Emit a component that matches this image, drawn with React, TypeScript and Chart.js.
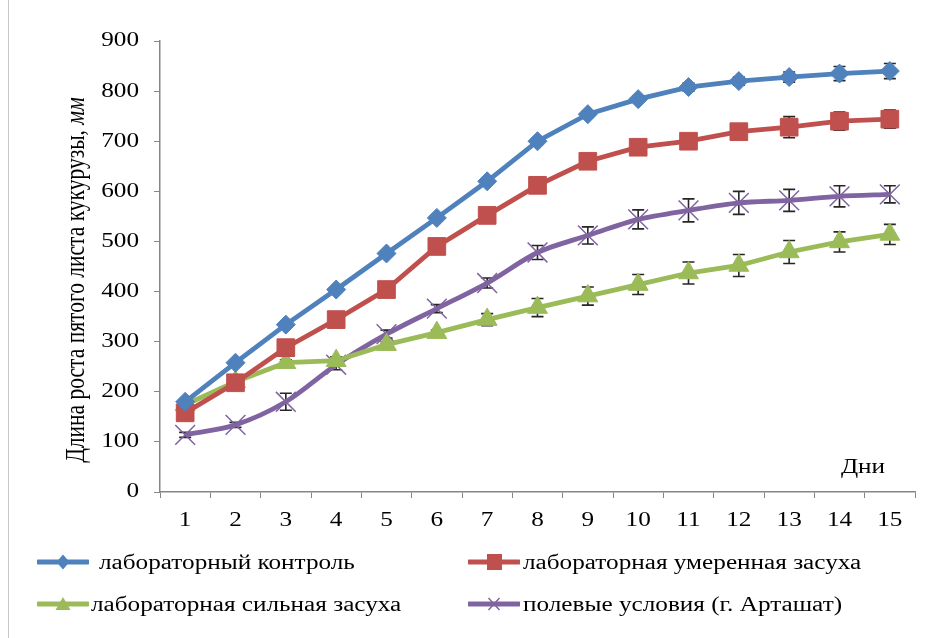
import React, { useEffect, useRef } from "react";
import { Chart, registerables } from "chart.js";

Chart.register(...registerables);

const days = ["1", "2", "3", "4", "5", "6", "7", "8", "9", "10", "11", "12", "13", "14", "15"];
const seriesNames = [
  "лабораторный контроль",
  "лабораторная умеренная засуха",
  "лабораторная сильная засуха",
  "полевые условия (г. Арташат)",
];
const control = [180, 258, 334, 404, 476, 547, 620, 700, 754, 784, 808, 820, 828, 835, 840];
const moderate = [158, 218, 288, 344, 404, 490, 552, 612, 660, 688, 700, 719, 728, 740, 744];
const severe = [174, 220, 258, 262, 294, 318, 344, 368, 391, 414, 437, 452, 479, 499, 514];
const field = [114, 134, 180, 254, 315, 366, 417, 478, 512, 544, 562, 577, 582, 590, 594];
const controlErr = [4, 5, 5, 5, 5, 5, 5, 6, 6, 6, 8, 8, 10, 14, 15];
const moderateErr = [5, 6, 6, 6, 6, 6, 6, 8, 8, 8, 8, 10, 21, 18, 18];
const severeErr = [4, 6, 6, 8, 6, 5, 12, 18, 18, 20, 22, 22, 23, 20, 20];
const fieldErr = [5, 5, 17, 10, 8, 8, 10, 14, 17, 19, 23, 23, 22, 21, 17];
const yTitleMain = "Длина роста пятого листа кукурузы, ";
const yTitleUnit = "мм";
const xTitle = "Дни";

const colors = ["#4F81BD", "#C0504D", "#9BBB59", "#8064A2"];
const FONT = "'Liberation Serif', 'Times New Roman', serif";
const SX = 1.23; // horizontal stretch of the text in the reference

const errors = [controlErr, moderateErr, severeErr, fieldErr];

const errorBarPlugin = {
  id: "errorBars",
  beforeDatasetsDraw(chart: any) {
    const { ctx, scales } = chart;
    const xs = scales.x;
    const ys = scales.y;
    ctx.save();
    ctx.strokeStyle = "#262626";
    ctx.lineWidth = 1.6;
    chart.data.datasets.forEach((ds: any, di: number) => {
      const errs = errors[di];
      ds.data.forEach((v: number, i: number) => {
        const e = errs[i];
        const x = xs.getPixelForValue(i);
        const yt = ys.getPixelForValue(v + e);
        const yb = ys.getPixelForValue(v - e);
        ctx.beginPath();
        ctx.moveTo(x, yt);
        ctx.lineTo(x, yb);
        ctx.moveTo(x - 6, yt);
        ctx.lineTo(x + 6, yt);
        ctx.moveTo(x - 6, yb);
        ctx.lineTo(x + 6, yb);
        ctx.stroke();
      });
    });
    ctx.restore();
  },
};

const textPlugin = {
  id: "texts",
  afterDraw(chart: any) {
    const { ctx, chartArea, scales } = chart;
    const tickFont = `20.5px ${FONT}`;
    // y tick labels
    scales.y.ticks.forEach((t: any, i: number) => {
      const y = scales.y.getPixelForTick(i);
      ctx.save();
      ctx.translate(139, y);
      ctx.scale(SX, 1);
      ctx.font = tickFont;
      ctx.fillStyle = "#000";
      ctx.textAlign = "right";
      ctx.textBaseline = "middle";
      ctx.fillText(String(t.value), 0, 0);
      ctx.restore();
    });
    // x tick labels
    const labels = scales.x.getLabels();
    scales.x.ticks.forEach((t: any, i: number) => {
      const x = scales.x.getPixelForTick(i);
      ctx.save();
      ctx.translate(x, chartArea.bottom + 29);
      ctx.scale(SX, 1);
      ctx.font = tickFont;
      ctx.fillStyle = "#000";
      ctx.textAlign = "center";
      ctx.textBaseline = "middle";
      ctx.fillText(String(labels[t.value]), 0, 0);
      ctx.restore();
    });
    // y title
    ctx.save();
    ctx.translate(77, 280);
    ctx.rotate(-Math.PI / 2);
    ctx.scale(1, SX);
    const f1 = `21.5px ${FONT}`;
    const f2 = `italic 21.5px ${FONT}`;
    ctx.font = f1;
    const w1 = ctx.measureText(yTitleMain).width;
    ctx.font = f2;
    const w2 = ctx.measureText(yTitleUnit).width;
    const start = -(w1 + w2) / 2;
    ctx.fillStyle = "#000";
    ctx.textBaseline = "middle";
    ctx.textAlign = "left";
    ctx.font = f1;
    ctx.fillText(yTitleMain, start, 0);
    ctx.font = f2;
    ctx.fillText(yTitleUnit, start + w1, 0);
    ctx.restore();
    // x title
    ctx.save();
    ctx.translate(863, 468);
    ctx.scale(SX, 1);
    ctx.font = `20.5px ${FONT}`;
    ctx.fillStyle = "#000";
    ctx.textAlign = "center";
    ctx.textBaseline = "middle";
    ctx.fillText(xTitle, 0, 0);
    ctx.restore();
  },
};

function LegendMarker({ idx }: { idx: number }) {
  const c = colors[idx];
  let marker: any = null;
  if (idx === 0) marker = <polygon points="26,2.5 32.5,10 26,17.5 19.5,10" fill={c} />;
  if (idx === 1) marker = <rect x="19" y="2" width="15" height="16" fill={c} />;
  if (idx === 2) marker = <polygon points="26,3 33.5,16 18.5,16" fill={c} />;
  if (idx === 3)
    marker = (
      <g stroke={c} strokeWidth="1.5">
        <line x1="20.5" y1="4" x2="31.5" y2="16" />
        <line x1="31.5" y1="4" x2="20.5" y2="16" />
      </g>
    );
  return (
    <svg width="52" height="20" style={{ display: "block" }}>
      <line x1="1" y1="10" x2="51" y2="10" stroke={c} strokeWidth="5" strokeLinecap="round" />
      {marker}
    </svg>
  );
}

export default function App() {
  const ref = useRef<HTMLCanvasElement>(null);
  useEffect(() => {
    document.body.style.margin = "0";
    const mk = (idx: number, data: number[], style: string, radius: number, extra: any = {}) => ({
      label: seriesNames[idx],
      data,
      borderColor: colors[idx],
      backgroundColor: colors[idx],
      pointBackgroundColor: colors[idx],
      pointBorderColor: colors[idx],
      borderWidth: 4.8,
      pointStyle: style,
      pointRadius: radius,
      pointBorderWidth: 1,
      tension: 0,
      ...extra,
    });
    const chart = new Chart(ref.current!, {
      type: "line",
      data: {
        labels: days,
        datasets: [
          mk(0, control, "rectRot", 9.5),
          mk(1, moderate, "rect", 12.5),
          mk(2, severe, "triangle", 11.5),
          mk(3, field, "crossRot", 14, { tension: 0.3, pointBorderWidth: 1.5 }),
        ],
      },
      plugins: [errorBarPlugin, textPlugin],
      options: {
        responsive: false,
        animation: false,
        layout: { padding: { top: 41, right: 20, bottom: 0, left: 0 } },
        plugins: { legend: { display: false }, tooltip: { enabled: false } },
        scales: {
          x: {
            type: "category",
            offset: true,
            grid: {
              display: true,
              drawOnChartArea: false,
              drawTicks: true,
              tickLength: 6,
              color: "#868686",
              offset: true,
            },
            border: { color: "#868686", width: 1.5 },
            ticks: { display: false },
            afterFit(s: any) {
              s.height = 146;
            },
          },
          y: {
            min: 0,
            max: 900,
            ticks: { display: false, stepSize: 100 },
            grid: {
              display: true,
              drawOnChartArea: false,
              drawTicks: true,
              tickLength: 6,
              color: "#868686",
            },
            border: { color: "#868686", width: 1.5 },
            afterFit(s: any) {
              s.width = 160;
            },
          },
        },
      },
    } as any);
    return () => chart.destroy();
  }, []);

  const legendItem = (idx: number, left: number, centerY: number, textLeft: number) => (
    <div key={idx} style={{ position: "absolute", left, top: centerY - 10, width: 52, height: 20 }}>
      <LegendMarker idx={idx} />
      <span
        style={{
          position: "absolute",
          left: textLeft - left,
          top: -4,
          whiteSpace: "nowrap",
          fontFamily: FONT,
          fontSize: 20.5,
          color: "#000",
          lineHeight: "28px",
          transform: `scaleX(${SX})`,
          transformOrigin: "0 50%",
        }}
      >
        {seriesNames[idx]}
      </span>
    </div>
  );

  return (
    <div style={{ position: "absolute", left: 0, top: 0, width: 935, height: 638, background: "#fff" }}>
      <div
        style={{
          position: "absolute",
          left: 8,
          top: 0,
          width: 0,
          height: 638,
          borderLeft: "1.5px solid #c8c8c8",
        }}
      />
      <canvas ref={ref} width={935} height={638} style={{ position: "absolute", left: 0, top: 0 }} />
      {legendItem(0, 37, 562, 99)}
      {legendItem(1, 468, 562, 523)}
      {legendItem(2, 37, 604, 91)}
      {legendItem(3, 468, 604, 523)}
    </div>
  );
}
